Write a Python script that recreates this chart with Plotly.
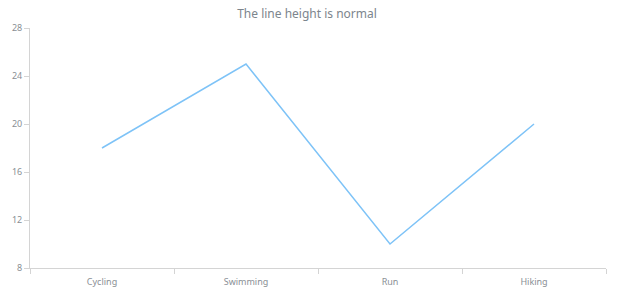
import plotly.graph_objects as go

categories = ["Cycling", "Swimming", "Run", "Hiking"]
values = [18, 25, 10, 20]
y_ticks = [8, 12, 16, 20, 24, 28]

fig = go.Figure()
fig.add_trace(go.Scatter(
    x=categories, y=values, mode="lines",
    line=dict(color="#7ec3f7", width=1.5),
    hoverinfo="skip", showlegend=False,
))

axis_color = "#d4d4d4"
tick_font = dict(family="Noto Sans", size=9, color="#8a8f95")

fig.update_layout(
    width=620, height=300,
    margin=dict(l=28, r=14, t=28, b=31),
    paper_bgcolor="white", plot_bgcolor="white",
    title=dict(text="The line height is normal", x=307/620, xref="container", xanchor="center",
               y=1 - 14/300, yref="container", yanchor="middle",
               font=dict(family="Noto Sans", size=12, color="#7c858d")),
    xaxis=dict(
        type="category", range=[-0.5, 3.5], tickson="boundaries",
        showline=True, linecolor=axis_color, linewidth=1,
        ticks="outside", ticklen=5, tickcolor=axis_color,
        showgrid=False, zeroline=False, tickfont=tick_font,
        ticklabelstandoff=5,
        fixedrange=True,
    ),
    yaxis=dict(
        range=[8, 28], tickvals=y_ticks,
        showline=True, linecolor=axis_color, linewidth=1,
        ticks="outside", ticklen=5, tickcolor=axis_color,
        showgrid=False, zeroline=False, tickfont=tick_font,
        fixedrange=True,
    ),
)

fig.write_html("out.html", config={"displayModeBar": False})
